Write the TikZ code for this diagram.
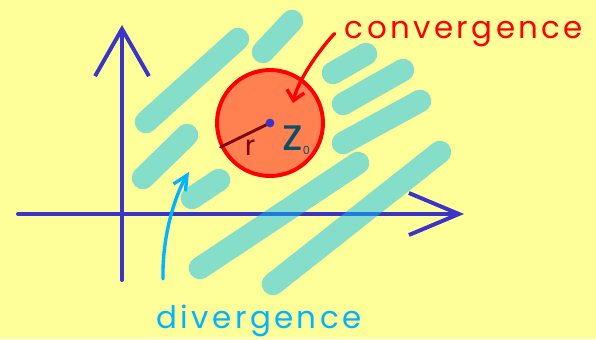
\documentclass[tikz,border=0pt]{standalone}
\usepackage{fontspec}
\setmainfont{Poppins}
\newfontfamily\handfont[LetterSpace=11]{Poppins}
\usetikzlibrary{arrows.meta}
\definecolor{bgyellow}{RGB}{255,255,153}
\definecolor{axisblue}{RGB}{58,52,200}
\definecolor{smear}{RGB}{10,190,250}
\definecolor{diskfill}{RGB}{255,128,80}
\definecolor{radred}{RGB}{125,10,10}
\definecolor{zteal}{RGB}{10,80,100}
\definecolor{divcyan}{RGB}{0,180,255}
\begin{document}
\begin{tikzpicture}[line cap=round, line join=round,
  axis/.style={line width=2.8pt, axisblue},
  smearline/.style={line width=16pt, smear, opacity=0.5},
  hand/.style={font=\handfont\fontsize{22}{24}\selectfont, inner sep=1pt}]
\fill[bgyellow] (0,0) rectangle (14.9,8.475);
\useasboundingbox (0,0) rectangle (14.9,8.475);
% axes
\draw[axis, -{Straight Barb[length=1.18cm, width=1.35cm]}] (3.05,1.475) -- (3.05,7.85);
\draw[axis, -{Straight Barb[length=1.25cm, width=1.05cm]}] (0.45,3.125) -- (11.6,3.125);
% diverging region
\foreach \a/\b/\c/\d in {3.65/5.425/5.95/7.5, 6.575/7.175/7.3/7.95, 3.575/4.025/4.675/5.1,
  4.8/3.525/5.475/3.975, 5.0/1.775/8.95/4.4, 6.825/1.375/11.0/4.675,
  8.325/6.65/9.15/7.125, 8.575/5.875/10.075/6.725, 8.575/4.9/10.5/5.95}
  \draw[smearline] (\a,\b) -- (\c,\d);
% disk of convergence
\node[circle, draw=red, fill=diskfill, line width=2.8pt, minimum size=2.65cm, inner sep=0pt] (disk) at (6.75,5.4) {};
\draw[radred, line width=2.1pt] (disk.center) -- (disk.206);
\fill[axisblue] (disk.center) circle (0.11);
\node[radred, font=\fontsize{20}{20}\selectfont, inner sep=0pt] (rlab) at (6.25,4.775) {r};
\node[zteal, anchor=base west, inner sep=0pt] (zlab) at (7.05,4.725) {\fontsize{32}{32}\selectfont z\raisebox{-3.5pt}{\fontsize{8}{8}\selectfont 0}};
% labels
\node[hand, red, anchor=base, inner xsep=0.25cm] (conv) at (11.6,7.525) {convergence};
\node[hand, divcyan, anchor=base] (div) at (6.475,0.275) {divergence};
\coordinate (ctip) at (7.325,5.9);
\coordinate (dtail) at (4.075,1.5);
\coordinate (dtip) at (4.725,4.175);
\draw[red, line width=2.4pt, -{Straight Barb[length=0.24cm, width=0.44cm]}] (conv.west) .. controls (8.0,7.25) and (7.45,6.475) .. (ctip);
\draw[divcyan, line width=2.4pt, -{Straight Barb[length=0.36cm, width=0.35cm]}] (dtail) .. controls (4.05,2.725) and (4.45,3.725) .. (dtip);
\end{tikzpicture}
\end{document}
